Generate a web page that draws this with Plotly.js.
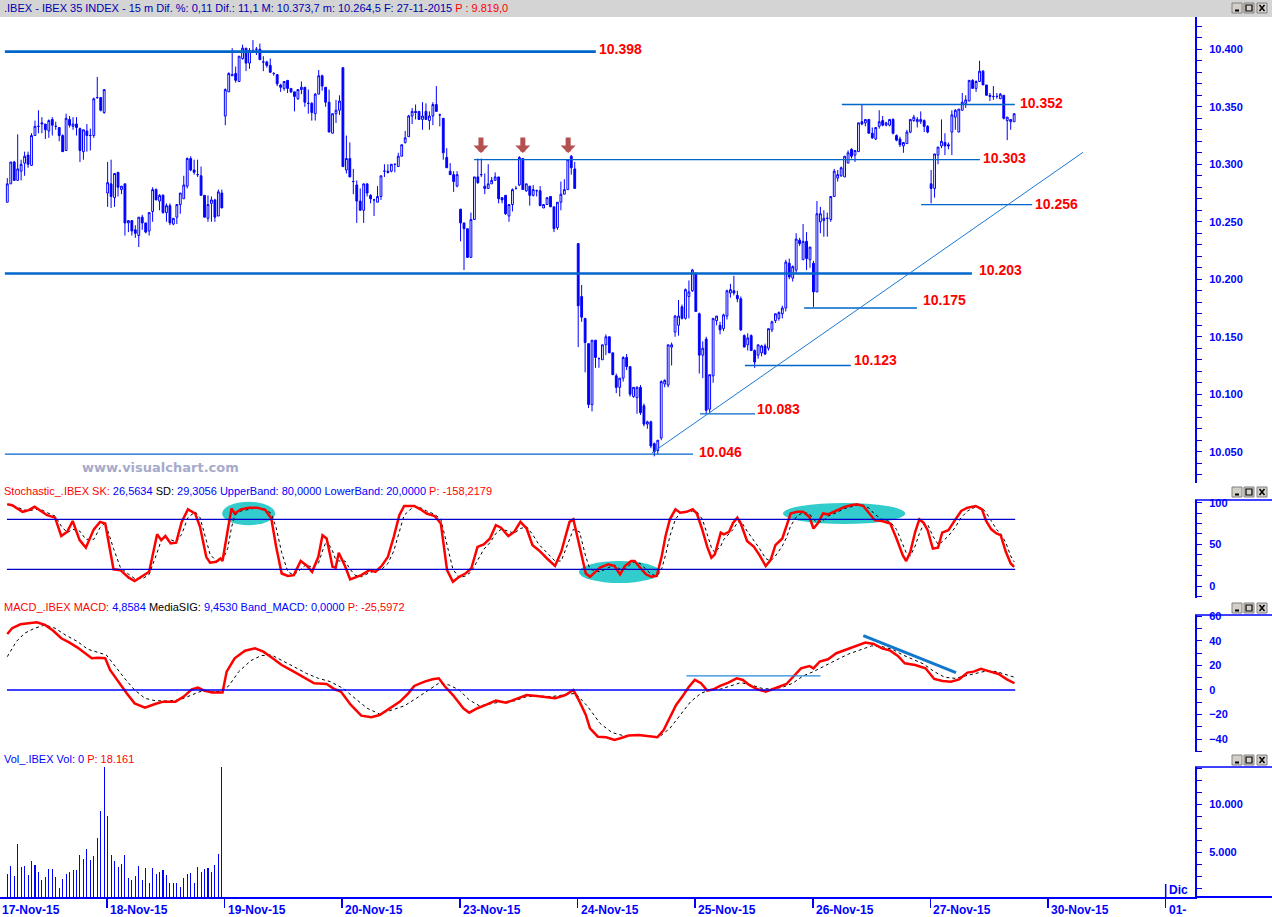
<!DOCTYPE html>
<html><head><meta charset="utf-8">
<script src="https://cdn.plot.ly/plotly-3.0.1.min.js"></script>
<style>html,body{margin:0;padding:0;background:#fff;overflow:hidden}#chart{width:1272px;height:917px}</style>
</head><body><div id="chart"></div>
<script>
// ---------- DATA (15-minute candles, [open, high, low, close]) ----------
const nov17 = [[10267,10288,10267,10283],[10283,10302,10283,10302],[10302,10303,10286,10286],[10286,10326,10286,10296],[10294,10304,10286,10300],[10301,10311,10290,10307],[10308,10311,10297,10300],[10299,10327,10299,10325],[10325,10338,10325,10333],[10333,10347,10327,10333],[10335,10341,10327,10336],[10335,10335,10322,10330],[10329,10339,10323,10338],[10339,10341,10325,10334],[10333,10337,10330,10333],[10332,10332,10320,10325],[10325,10326,10311,10311],[10312,10344,10312,10340],[10339,10342,10332,10334],[10333,10341,10330,10335],[10335,10341,10325,10332],[10331,10332,10302,10312],[10311,10330,10304,10330],[10329,10335,10311,10325],[10325,10331,10312,10325],[10325,10358,10323,10357],[10358,10376,10357,10358],[10358,10358,10346,10347],[10345,10365,10344,10365]];
const nov18 = [[10275,10302,10263,10284],[10283,10304,10262,10272],[10271,10292,10263,10292],[10293,10293,10272,10280],[10278,10281,10274,10281],[10283,10283,10238,10249],[10249,10251,10241,10251],[10251,10251,10238,10242],[10243,10247,10236,10240],[10238,10254,10228,10254],[10254,10256,10243,10249],[10249,10249,10240,10241],[10242,10258,10238,10258],[10259,10280,10250,10278],[10278,10279,10269,10269],[10268,10274,10260,10273],[10273,10274,10257,10258],[10258,10266,10250,10264],[10264,10266,10247,10249],[10248,10253,10247,10253],[10254,10265,10248,10265],[10265,10275,10257,10275],[10270,10290,10270,10282],[10281,10306,10279,10305],[10305,10307,10294,10295],[10295,10304,10291,10293],[10291,10304,10289,10291],[10290,10298,10273,10273],[10273,10273,10254,10254],[10253,10273,10250,10265],[10266,10272,10250,10269],[10269,10270,10250,10254],[10255,10278,10255,10276],[10275,10278,10262,10262]];
const nov19 = [[10342,10366,10334,10365],[10363,10380,10363,10379],[10377,10401,10377,10378],[10379,10385,10371,10373],[10372,10394,10372,10394],[10392,10404,10391,10401],[10401,10401,10381,10388],[10388,10401,10383,10399],[10399,10408,10397,10399],[10400,10402,10395,10400],[10400,10405,10391,10391],[10389,10394,10381,10389],[10389,10390,10384,10386],[10386,10392,10380,10380],[10379,10380,10377,10379],[10378,10378,10368,10370],[10369,10370,10363,10367],[10366,10372,10364,10372],[10373,10373,10362,10366],[10366,10366,10362,10363],[10363,10363,10346,10359],[10357,10365,10356,10365],[10365,10372,10361,10367],[10367,10367,10350,10354],[10353,10365,10344,10353],[10353,10354,10338,10345],[10344,10362,10338,10361],[10361,10382,10361,10377],[10377,10378,10364,10368],[10367,10367,10350,10354],[10354,10365,10328,10328],[10327,10344,10327,10344],[10344,10356,10336,10347],[10347,10360,10343,10355]];
const nov20 = [[10384,10384,10298,10298],[10295,10325,10292,10305],[10305,10319,10289,10289],[10285,10296,10274,10285],[10282,10286,10249,10268],[10268,10279,10260,10260],[10260,10283,10249,10283],[10283,10283,10272,10275],[10273,10274,10266,10270],[10269,10270,10255,10269],[10267,10281,10267,10272],[10272,10290,10269,10290],[10294,10300,10289,10294],[10294,10300,10292,10293],[10294,10300,10293,10300],[10300,10300,10293,10300],[10298,10310,10298,10307],[10307,10317,10307,10317],[10319,10329,10318,10323],[10324,10343,10324,10342],[10342,10349,10335,10346],[10346,10352,10339,10345],[10346,10346,10339,10339],[10339,10354,10330,10342],[10346,10353,10339,10339],[10338,10346,10330,10342],[10342,10354,10334,10352],[10352,10368,10346,10346],[10343,10344,10333,10343],[10340,10340,10304,10310],[10306,10314,10297,10297],[10294,10301,10291,10291],[10291,10294,10276,10285],[10281,10294,10280,10291]];
const nov23 = [[10261,10261,10233,10249],[10249,10249,10208,10244],[10244,10244,10219,10219],[10219,10258,10219,10252],[10252,10289,10252,10289],[10289,10305,10283,10284],[10291,10305,10289,10291],[10281,10292,10274,10279],[10279,10300,10279,10283],[10283,10289,10283,10286],[10286,10293,10286,10289],[10289,10289,10266,10270],[10271,10271,10266,10269],[10273,10273,10256,10257],[10255,10265,10250,10265],[10265,10279,10259,10278],[10279,10281,10278,10279],[10282,10307,10281,10306],[10305,10305,10278,10278],[10277,10283,10276,10283],[10281,10281,10264,10273],[10273,10282,10272,10278],[10277,10278,10272,10277],[10277,10281,10264,10264],[10262,10265,10262,10265],[10265,10271,10265,10271],[10272,10272,10263,10263],[10263,10263,10241,10244],[10245,10267,10243,10267],[10267,10285,10260,10274],[10274,10287,10274,10278],[10278,10304,10278,10304],[10307,10308,10291,10297],[10296,10302,10279,10279]];
const nov24 = [[10231,10231,10141,10177],[10185,10195,10163,10167],[10166,10166,10119,10145],[10144,10144,10088,10091],[10091,10147,10085,10147],[10147,10147,10123,10132],[10131,10132,10123,10131],[10130,10143,10130,10143],[10143,10152,10134,10150],[10150,10150,10136,10136],[10136,10136,10117,10117],[10116,10118,10101,10106],[10106,10114,10098,10114],[10114,10133,10111,10132],[10132,10135,10121,10124],[10124,10124,10098,10100],[10098,10106,10097,10106],[10097,10107,10083,10106],[10106,10108,10082,10084],[10090,10092,10072,10074],[10074,10077,10070,10076],[10076,10077,10053,10055],[10057,10058,10046,10050],[10051,10060,10048,10060],[10062,10112,10060,10111],[10109,10113,10106,10112],[10108,10143,10106,10143],[10141,10145,10125,10143],[10154,10169,10150,10168],[10160,10182,10151,10168],[10176,10178,10165,10166],[10166,10192,10165,10191],[10185,10199,10166,10189],[10190,10209,10189,10208]];
const nov25 = [[10205,10206,10172,10172],[10170,10171,10118,10134],[10134,10146,10114,10140],[10148,10150,10083,10086],[10087,10117,10084,10117],[10116,10166,10110,10166],[10164,10168,10160,10168],[10160,10163,10152,10156],[10157,10170,10155,10169],[10168,10191,10165,10190],[10188,10196,10184,10191],[10190,10203,10186,10188],[10186,10190,10180,10183],[10183,10185,10155,10156],[10151,10152,10141,10141],[10143,10153,10138,10149],[10151,10152,10138,10138],[10138,10139,10123,10128],[10134,10143,10131,10143],[10136,10143,10133,10142],[10142,10144,10134,10135],[10140,10157,10138,10157],[10156,10164,10154,10163],[10164,10170,10162,10170],[10166,10172,10164,10171],[10170,10177,10166,10175],[10175,10217,10172,10215],[10214,10218,10200,10202],[10201,10212,10198,10211],[10208,10240,10205,10235],[10234,10236,10229,10231],[10217,10248,10217,10233],[10233,10241,10208,10218],[10217,10228,10210,10228]];
const nov26 = [[10214,10216,10176,10189],[10189,10268,10189,10257],[10250,10263,10240,10257],[10251,10260,10237,10253],[10253,10258,10237,10253],[10252,10272,10250,10272],[10272,10296,10272,10294],[10288,10295,10285,10291],[10290,10298,10289,10297],[10289,10307,10289,10307],[10301,10312,10301,10310],[10313,10314,10305,10307],[10308,10312,10302,10312],[10311,10336,10311,10336],[10337,10352,10334,10335],[10336,10339,10333,10339],[10339,10339,10327,10327],[10327,10332,10322,10323],[10322,10332,10321,10332],[10333,10347,10331,10337],[10338,10342,10333,10334],[10334,10337,10333,10336],[10334,10339,10333,10339],[10339,10340,10326,10327],[10325,10326,10320,10321],[10322,10324,10315,10317],[10316,10319,10310,10319],[10318,10330,10318,10328],[10328,10339,10327,10339],[10338,10343,10337,10341],[10337,10341,10332,10339],[10337,10346,10335,10339],[10338,10339,10328,10333],[10333,10334,10327,10328]];
const nov27 = [[10283,10295,10266,10279],[10279,10309,10271,10309],[10308,10315,10300,10315],[10316,10339,10314,10320],[10319,10327,10308,10316],[10317,10319,10313,10316],[10328,10347,10308,10343],[10341,10348,10330,10347],[10328,10348,10328,10348],[10347,10362,10347,10354],[10353,10360,10349,10356],[10355,10373,10355,10373],[10373,10374,10366,10366],[10366,10373,10363,10372],[10372,10390,10372,10381],[10381,10382,10369,10369],[10369,10369,10360,10360],[10360,10362,10355,10359],[10359,10368,10356,10359],[10359,10362,10357,10359],[10357,10362,10357,10361],[10360,10360,10339,10340],[10338,10341,10321,10341],[10337,10339,10330,10339],[10337,10344,10337,10344]];

const dateLabels = ['17-Nov-15','18-Nov-15','19-Nov-15','20-Nov-15','23-Nov-15','24-Nov-15','25-Nov-15','26-Nov-15','27-Nov-15','30-Nov-15','01-'];
const barsPerSession = 34;

// Volume (only the first two sessions are present)
const volume = [2710,3540,2500,5900,3440,3540,2600,4060,3650,2920,2080,2400,3230,3230,2400,1250,2190,2710,2920,3130,3130,4690,4270,5310,4170,4580,6460,9270,16000,8810,4690,4060,3440,3750,4690,2290,2080,2500,3540,2080,3330,1770,3330,2710,2920,3130,2600,1770,1770,1770,1350,2290,2710,2810,1770,3440,2920,3230,3330,2920,3650,4790,18161];

// Stochastic SK (red) and SD (dotted) : [bar, value]
const stochSK = [[1,98],[2.4,97],[5.4,89],[7.2,91],[8.9,95],[10.7,90],[12.5,85],[14.8,82],[16.6,60],[18.3,65],[19.9,78],[21.9,55],[23.7,46],[26,68],[27.8,77],[29.3,75],[31.7,20],[33.7,19],[36.1,10],[37.8,6],[40.2,12],[42,17],[44.3,62],[45.5,55],[46.7,60],[48.2,51],[49.8,52],[51.4,77],[53.2,92],[55.3,87],[56.7,71],[58.5,35],[59.6,28],[61.4,29],[62.6,33],[63.2,30],[64.7,67],[65.8,93],[66.7,87],[68.5,92],[70.8,94],[73.2,94],[75.6,91],[77.3,81],[78.7,47],[80.3,15],[82.1,12],[83.8,13],[85.8,30],[87.4,25],[89.1,17],[90.9,35],[92.1,61],[93.3,57],[95,23],[95.9,22],[96.8,40],[98.6,24],[100.1,8],[101.5,10],[103.3,13],[105.7,19],[107.4,17],[109.2,24],[111,35],[112.7,59],[114.3,85],[115.7,96],[118.6,96],[120.4,92],[122.2,87],[124.5,84],[126.3,75],[128.1,19],[129.8,5],[131.6,11],[133.4,15],[135.1,21],[136.9,47],[138.7,50],[140.5,57],[142.2,73],[143.7,70],[145.8,60],[147.5,65],[149.3,77],[151.1,69],[152.8,49],[154.6,43],[157,33],[159.3,24],[161.1,41],[163.5,77],[164.6,80],[166.4,47],[168.2,15],[169.4,11],[172.3,22],[174.7,26],[176.5,24],[178.1,14],[179.5,24],[181.3,30],[182.3,30],[183.9,22],[185.6,14],[187.1,11],[188.7,12],[190.1,35],[191.3,61],[192.5,80],[194.1,92],[195.5,88],[197.3,89],[199.1,92],[200.3,87],[201.9,67],[203.3,47],[204.5,34],[205.5,38],[207.2,64],[208.1,62],[209.6,65],[210.8,76],[212,82],[213,75],[214.8,54],[216.8,47],[218.4,37],[220.2,24],[221.6,31],[223,49],[225,57],[226.2,71],[227.4,87],[229.2,89],[231,89],[232.8,83],[234,69],[235.2,75],[236.8,87],[238.2,86],[240.6,91],[243,95],[244.8,97],[246.6,98],[248.4,96],[250.2,87],[251.7,79],[253.8,78],[256.2,75],[258,57],[259.8,37],[260.8,30],[262,41],[263.4,65],[264.6,80],[265.8,76],[267,67],[268.5,45],[270,46],[271.2,64],[273,67],[274.9,79],[276.7,90],[278.5,94],[280.9,96],[282.7,92],[283.9,78],[285.4,68],[286.9,63],[288.1,61],[289.6,41],[291,27],[292,23]];
const stochSD = [[1,98],[2.4,97],[5.4,92],[7.2,90],[8.9,92],[10.7,92],[12.5,88],[14.8,84],[16.6,72],[18.3,64],[19.9,68],[21.9,66],[23.7,56],[26,56],[27.8,70],[29.3,76],[31.7,45],[33.7,22],[36.1,14],[37.8,9],[40.2,9],[42,14],[44.3,40],[45.5,55],[46.7,58],[48.2,56],[49.8,53],[51.4,62],[53.2,82],[55.3,89],[56.7,82],[58.5,55],[59.6,38],[61.4,30],[62.6,30],[63.2,31],[64.7,45],[65.8,70],[66.7,85],[68.5,90],[70.8,92],[73.2,94],[75.6,92],[77.3,87],[78.7,70],[80.3,40],[82.1,17],[83.8,13],[85.8,20],[87.4,26],[89.1,22],[90.9,27],[92.1,42],[93.3,55],[95,42],[95.9,32],[96.8,30],[98.6,30],[100.1,20],[101.5,13],[103.3,11],[105.7,16],[107.4,18],[109.2,20],[111,27],[112.7,42],[114.3,65],[115.7,85],[118.6,96],[120.4,94],[122.2,90],[124.5,86],[126.3,80],[128.1,50],[129.8,20],[131.6,10],[133.4,12],[135.1,17],[136.9,30],[138.7,44],[140.5,52],[142.2,63],[143.7,68],[145.8,66],[147.5,63],[149.3,69],[151.1,71],[152.8,62],[154.6,50],[157,40],[159.3,30],[161.1,30],[163.5,55],[164.6,68],[166.4,65],[168.2,35],[169.4,20],[172.3,17],[174.7,22],[176.5,25],[178.1,20],[179.5,20],[181.3,27],[182.3,29],[183.9,27],[185.6,20],[187.1,14],[188.7,12],[190.1,20],[191.3,38],[192.5,60],[194.1,80],[195.5,88],[197.3,89],[199.1,90],[200.3,89],[201.9,80],[203.3,62],[204.5,46],[205.5,40],[207.2,48],[208.1,56],[209.6,63],[210.8,68],[212,76],[213,78],[214.8,66],[216.8,55],[218.4,45],[220.2,33],[221.6,30],[223,36],[225,48],[226.2,58],[227.4,72],[229.2,84],[231,88],[232.8,87],[234,80],[235.2,76],[236.8,78],[238.2,84],[240.6,88],[243,93],[244.8,95],[246.6,97],[248.4,97],[250.2,93],[251.7,86],[253.8,80],[256.2,77],[258,68],[259.8,50],[260.8,40],[262,36],[263.4,48],[264.6,63],[265.8,74],[267,74],[268.5,60],[270,50],[271.2,53],[273,60],[274.9,70],[276.7,82],[278.5,90],[280.9,95],[282.7,94],[283.9,88],[285.4,78],[286.9,68],[288.1,63],[289.6,52],[291,36],[292,29]];

// MACD (red) and MediaSIG (dotted)
const macdBars = [1,2.4,4.8,7.2,9.5,11.9,14.2,16.6,19,21.3,23.7,25.4,27.2,29.3,30.7,33.1,35.5,37.8,40.8,43.7,46.1,49.6,52,54.3,56.1,57.9,60.2,63.2,64.4,66.7,69.7,72.6,75,77.3,80.3,83.8,86.8,89.7,93.3,95.6,97.4,100.3,103.3,106.2,108.6,111.5,114.5,116.9,118.6,121.6,123.9,125.7,127.5,129.8,132.8,134.5,136.9,139.3,142.2,145.2,148.1,151.1,154,157,159.3,162.3,164.6,166.4,168.2,169.4,171.7,174.1,176.5,178.2,180.6,183.5,185.9,188.9,190.7,192.5,194.3,196.1,197.9,199.7,201.5,203.3,205.1,207,209.4,211.8,213.6,215.4,217.8,220.2,222,224.4,226.2,228,230.4,232.8,234,235.8,238.2,240.6,243.6,246.6,249,251.4,253.8,256.2,258.4,260.4,263.4,266.4,268.9,271.3,273.7,276.1,278.5,280.3,282.4,285.1,287.5,289.9,292.1];
const macdValues = [45.7,50.4,53.6,54.5,55.3,53.1,48.5,42.2,38.7,34.6,29.4,25.9,26.4,25.9,16.4,6.8,-2.7,-10.9,-14.4,-11.4,-9.5,-9.5,-5.4,0.5,1.9,-0.5,-2.1,-2.1,15,25.9,32.1,34,31.3,26.7,20.4,15,10.4,5.5,4.9,0.6,-1.3,-12.2,-20.9,-22.3,-20.4,-14.9,-9.5,-2.7,3.3,6.8,8.7,9.5,2.8,-4.1,-14.9,-18.5,-14.9,-12.2,-8.7,-10.3,-7.3,-4.1,-4.9,-6,-6.8,-4.1,0,-9.5,-20.4,-31.3,-38.1,-38.6,-40.8,-39.4,-37.2,-36.7,-37.5,-38.6,-32.6,-21.7,-12.2,-5.4,2.2,8.2,5.5,-0.5,0.6,3.3,6,9.5,8.2,4.1,0.6,-1.3,0.6,2.8,4.9,10.4,17.7,19.6,17.7,23.2,25.1,30,33.2,36,38.7,37.6,34,32.1,27.8,21.8,20.4,17.7,9,7.4,6.8,8.7,14.2,15,17.2,15,13.1,8.7,5.5];
const signalBars = [1,3.6,6,8.9,11.9,14.8,17.8,21.3,24.3,27.2,29.6,31.9,34.9,37.8,40.8,43.7,47.3,50.8,54.3,56.7,59.1,62.6,65,67.9,71.4,74.4,77.3,80.3,83.8,87.4,90.9,94.4,98,101.5,105,108.6,112.1,115.7,119.2,122.7,125.7,128.7,131.6,134.5,137.5,140.5,144,147.5,151.1,154.6,158.2,161.7,165.2,168.8,172.3,175.8,179.4,183.5,185.3,189.5,192.5,195.5,198.5,201.5,203.9,207,210,213,216,219,222,225,228,231,234,237,240.6,244.2,247.8,250.8,253.8,256.8,259.8,262.8,265.8,268.9,271.9,274.9,277.9,280.9,283.9,286.9,289.9,292.1];
const signalValues = [27.2,39.5,46.3,50.4,53.1,50.4,44.9,39.5,33.2,30.5,28.6,20.4,9.5,0,-6.8,-8.7,-9,-8.1,-4.1,-1.3,-1.3,-1.3,3.3,15,24,28.1,28.6,24.5,19.1,13.6,9.5,6.8,1.4,-6.8,-14.9,-19.6,-16.3,-13,-6.8,0,5.5,4.1,0,-8.1,-13,-11.4,-9.5,-9,-5.4,-4.9,-5.4,-4.1,-2.7,-13.6,-27.2,-34.8,-37.5,-36.7,-37.5,-38.1,-31.3,-20.4,-9.5,-2.7,0,0.6,3.3,6,4.1,1.4,0.6,2.2,5.5,11.5,15,19.6,24.5,29.4,33.2,36,35.4,33.2,28.6,25.1,21.3,15,10.4,9.5,11.5,13.6,15.5,15,12.3,10.4];

// Support / resistance levels drawn on the price panel
const levelValues = [10398,10304,10205,10352,10265,10175,10125,10083,10048];
const levelLabels = ['10.398','10.303','10.203','10.352','10.256','10.175','10.123','10.083','10.046'];
const stochBands = [80,20];

// ---------- BUILD ----------
const sessions = [nov17,nov18,nov19,nov20,nov23,nov24,nov25,nov26,nov27];
const bars = sessions.flat();
const barIdx = bars.map((_,i)=>i+1);
const sessionStarts = [];
{ let s = 1; sessions.forEach((d,k)=>{ if(k>0) sessionStarts.push(s); s += d.length; }); }
const tickBars = [sessionStarts[0]-barsPerSession, ...sessionStarts,
  sessionStarts[sessionStarts.length-1]+barsPerSession, sessionStarts[sessionStarts.length-1]+2*barsPerSession].map(b=>b-0.2);

const W=1272, H=917;
const px = v=>v/W, py = v=>1-v/H;
const BLUE='#0000ff', LBLUE='#0066cc', RED='#ff0000';
const X0 = -1.11, X1 = 344.27;
const lastBar = bars.length;

const traces = [
 {type:'candlestick', x:barIdx, open:bars.map(b=>b[0]), high:bars.map(b=>b[1]), low:bars.map(b=>b[2]), close:bars.map(b=>b[3]),
  xaxis:'x', yaxis:'y', whiskerwidth:0, hoverinfo:'skip', showlegend:false,
  increasing:{line:{color:BLUE,width:1}, fillcolor:'#ffffff'},
  decreasing:{line:{color:BLUE,width:1}, fillcolor:BLUE}},
 {type:'scatter', mode:'lines', x:stochSD.map(p=>p[0]), y:stochSD.map(p=>p[1]), xaxis:'x', yaxis:'y2', line:{color:'#000000',width:1,dash:'dot'}, hoverinfo:'skip'},
 {type:'scatter', mode:'lines', x:stochSK.map(p=>p[0]), y:stochSK.map(p=>p[1]), xaxis:'x', yaxis:'y2', line:{color:RED,width:2.5}, hoverinfo:'skip'},
 {type:'scatter', mode:'lines', x:signalBars, y:signalValues, xaxis:'x', yaxis:'y3', line:{color:'#000000',width:1,dash:'dot'}, hoverinfo:'skip'},
 {type:'scatter', mode:'lines', x:macdBars, y:macdValues, xaxis:'x', yaxis:'y3', line:{color:RED,width:2.5}, hoverinfo:'skip'},
 {type:'bar', x:volume.map((_,i)=>i+1), y:volume, xaxis:'x', yaxis:'y4', width:0.3, marker:{color:BLUE,line:{width:0}}, hoverinfo:'skip'}
];

const tickFont = {family:'Liberation Sans, Arial, sans-serif', size:11, color:BLUE, weight:'bold'};
function yax(domain, range, tick0, dtick, minor){
  return {domain, range, side:'right', anchor:'x', showline:true, linecolor:BLUE, linewidth:2,
    ticks:'outside', ticklen:5, tickcolor:BLUE, tickwidth:1, tickmode:'linear', tick0, dtick,
    tickformat:',d', tickfont:tickFont, ticklabelstandoff:5, showgrid:false, zeroline:false, fixedrange:true,
    minor:{dtick:minor, ticks:'outside', ticklen:5, tickcolor:BLUE, tickwidth:1, showgrid:false}};
}

const shapes = [];
const annotations = [];
// title bar
shapes.push({type:'rect', xref:'paper', yref:'paper', x0:0, x1:1, y0:py(17), y1:1, fillcolor:'#d4d4d4', line:{width:0}, layer:'below'});
// level lines
const levelSpans = [[0.3,171.1],[135.9,282.1],[0.3,279.8],[242.2,292.2],[265.1,297.2],[231.3,263.9],[214.2,244.8],[201.2,217.1],[0.3,199.2]];
const levelWidths = [2.6,1.3,2.6,1.3,1.3,1.3,1.3,1.3,1.3];
const labelBars = [171.4,282.4,281.3,293.1,297.5,265.1,245.1,217.1,200.3];
const labelShift = [3,2,4,1,1,8,5,5,2];
levelValues.forEach((v,i)=>{
  shapes.push({type:'line', xref:'x', yref:'y', x0:levelSpans[i][0], x1:levelSpans[i][1], y0:v, y1:v, line:{color:LBLUE,width:levelWidths[i]}});
  annotations.push({xref:'x', yref:'y', x:labelBars[i], y:v, xanchor:'left', yanchor:'middle', yshift:labelShift[i], showarrow:false,
    text:levelLabels[i], font:{family:'Liberation Sans, Arial, sans-serif', size:14, color:RED, weight:'bold'}});
});
// rising trend line
shapes.push({type:'line', xref:'x', yref:'y', x0:187.3, y0:10049, x1:311.9, y1:10310.4, line:{color:'#1a78d4', width:1}});
// three resistance arrows
[137.9,150.0,163.1].forEach(b=>{
  annotations.push({xref:'x', yref:'y', x:b, y:10309.8, ax:0, ay:-17, showarrow:true, arrowhead:1, arrowsize:0.5, arrowwidth:5, arrowcolor:'#b45050', text:'', standoff:0});
});
// stochastic: cyan ellipses + bands
[[63.1,78.4,73,101],[166.2,189.7,3.6,30],[225.2,260.5,74.4,99.6]].forEach(e=>{
  shapes.push({type:'circle', xref:'x', yref:'y2', x0:e[0], x1:e[1], y0:e[2], y1:e[3], fillcolor:'#33cccc', line:{width:0}, layer:'below'});
});
stochBands.forEach(v=>shapes.push({type:'line', xref:'x', yref:'y2', x0:0.9, x1:lastBar+0.3, y0:v, y1:v, line:{color:'#0000cc', width:1.3}}));
// MACD zero line and drawn lines
shapes.push({type:'line', xref:'x', yref:'y3', x0:0.9, x1:lastBar+0.3, y0:0, y1:0, line:{color:'#0000ff', width:1.3}});
shapes.push({type:'line', xref:'x', yref:'y3', x0:197.3, x1:236, y0:11.5, y1:11.5, line:{color:'#2288dd', width:1.3}});
shapes.push({type:'line', xref:'x', yref:'y3', x0:248.4, x1:275.2, y0:44.4, y1:14.2, line:{color:'#1177cc', width:3}});
// right axis caps and bottom axis extension
[500,615,767].forEach(y=>shapes.push({type:'line', xref:'paper', yref:'paper', x0:px(1195), x1:1, y0:py(y), y1:py(y), line:{color:BLUE,width:1.5}}));
shapes.push({type:'line', xref:'paper', yref:'paper', x0:px(1195), x1:1, y0:py(897), y1:py(897), line:{color:BLUE,width:2}});
// month tick for December
shapes.push({type:'line', xref:'x', yref:'paper', x0:tickBars[10], x1:tickBars[10], y0:py(884), y1:py(897), line:{color:BLUE,width:1.5}});
annotations.push({xref:'x', yref:'paper', x:tickBars[10], y:py(890), xanchor:'left', yanchor:'middle', xshift:1, showarrow:false, text:'Dic', font:{family:'Liberation Sans, Arial, sans-serif', size:12, color:BLUE, weight:'bold'}});
// window buttons
function buttons(cy){
  const xs=[[1232,1242],[1244,1254],[1257,1267]];
  xs.forEach((r,k)=>{
    shapes.push({type:'rect', xref:'paper', yref:'paper', x0:px(r[0]), x1:px(r[1]), y0:py(cy+5), y1:py(cy-5), fillcolor:'#d4d0c8', line:{color:'#808080',width:1}});
    if(k===0) shapes.push({type:'line', xref:'paper', yref:'paper', x0:px(r[0]+3), x1:px(r[0]+7), y0:py(cy+2.5), y1:py(cy+2.5), line:{color:'#000',width:2}});
    if(k===1) shapes.push({type:'rect', xref:'paper', yref:'paper', x0:px(r[0]+2), x1:px(r[1]-2), y0:py(cy+3), y1:py(cy-3), line:{color:'#000',width:1.2}});
    if(k===2){
      shapes.push({type:'line', xref:'paper', yref:'paper', x0:px(r[0]+2.5), x1:px(r[1]-2.5), y0:py(cy+3), y1:py(cy-3), line:{color:'#000',width:1.5}});
      shapes.push({type:'line', xref:'paper', yref:'paper', x0:px(r[0]+2.5), x1:px(r[1]-2.5), y0:py(cy-3), y1:py(cy+3), line:{color:'#000',width:1.5}});
    }
  });
}
[8,492,608,760].forEach(buttons);

// header texts
const hdrFont = {family:'Liberation Sans, Arial, sans-serif', size:11, color:BLUE};
const span = (c,t)=>'<span style="color:'+c+'">'+t+'</span>';
const headers = [
  [8, span('#0000b0','.IBEX - IBEX 35 INDEX - 15 m Dif. %: 0,11 Dif.: 11,1 M: 10.373,7 m: 10.264,5 F: 27-11-2015 ')+span(RED,'P : 9.819,0')],
  [491, span(RED,'Stochastic_.IBEX SK: ')+span(BLUE,'26,5634 ')+span('#000000','SD: ')+span(BLUE,'29,3056 UpperBand: 80,0000 LowerBand: 20,0000 ')+span(RED,'P: -158,2179')],
  [607, span(RED,'MACD_.IBEX MACD: ')+span(BLUE,'4,8584 ')+span('#000000','MediaSIG: ')+span(BLUE,'9,4530 Band_MACD: 0,0000 ')+span(RED,'P: -25,5972')],
  [759, span(BLUE,'Vol_.IBEX Vol: 0 ')+span(RED,'P: 18.161')]
];
headers.forEach(h=>annotations.push({xref:'paper', yref:'paper', x:px(2), y:py(h[0]), xanchor:'left', yanchor:'middle', showarrow:false, text:h[1], font:hdrFont}));
// watermark
annotations.push({xref:'paper', yref:'paper', x:px(160), y:py(467), xanchor:'center', yanchor:'middle', showarrow:false, text:'www.visualchart.com', font:{family:'DejaVu Sans, Verdana, sans-serif', size:13, color:'#a6aacb', weight:'bold'}});
// date labels
const dateFont = {family:'Liberation Sans, Arial, sans-serif', size:12, color:BLUE, weight:'bold'};
dateLabels.forEach((t,i)=>{
  if(i===0){
    annotations.push({xref:'paper', yref:'paper', x:0, y:py(910), xanchor:'left', yanchor:'middle', xshift:0, showarrow:false, text:t, font:dateFont});
  } else {
    annotations.push({xref:'x', yref:'paper', x:tickBars[i], y:py(910), xanchor:'left', yanchor:'middle', xshift:1, showarrow:false, text:t, font:dateFont});
  }
});

const layout = {
  width:W, height:H, margin:{l:0,r:0,t:0,b:0}, paper_bgcolor:'#ffffff', plot_bgcolor:'#ffffff',
  showlegend:false, hovermode:false, separators:',.', boxgap:0.25, bargap:0,
  xaxis:{domain:[0,1195/W], range:[X0,X1], anchor:'y4', showline:true, linecolor:BLUE, linewidth:2,
    tickmode:'array', tickvals:tickBars, ticks:'outside', ticklen:9, tickcolor:BLUE, tickwidth:1.5,
    showticklabels:false, showgrid:false, zeroline:false, rangeslider:{visible:false}, fixedrange:true},
  yaxis: yax([py(483),py(17)], [10022.8,10428.1], 10000, 50, 10),
  yaxis2: yax([py(598),py(500)], [-14.4,103.2], 0, 50, 12.5),
  yaxis3: yax([py(752),py(615)], [-50.6,61.2], 0, 20, 10),
  yaxis4: yax([py(897),py(767)], [344,13886], 0, 5000, 1250),
  shapes, annotations
};
Plotly.newPlot('chart', traces, layout, {staticPlot:true, displayModeBar:false});
</script></body></html>
